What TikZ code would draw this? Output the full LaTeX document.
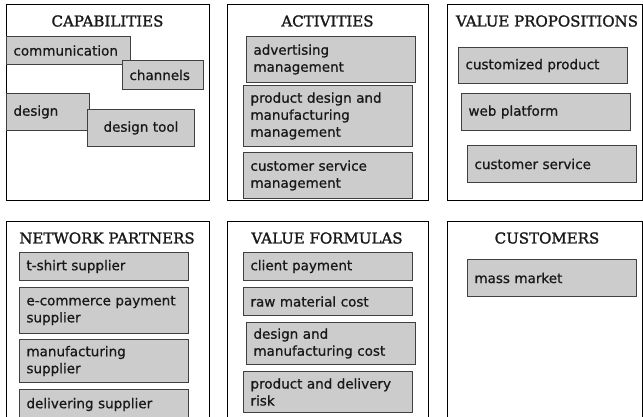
\documentclass[tikz,border=0pt]{standalone}
\usepackage{fontspec}
\newfontfamily\titlefont[FakeBold=1.6]{DejaVu Serif}
\newfontfamily\boxfont[FakeBold=0.8]{DejaVu Sans}
\begin{document}
\begin{tikzpicture}[x=1pt,y=-1pt,
  panel/.style={draw=black, line width=1pt, anchor=north west, inner sep=0pt},
  title/.style={font=\titlefont\fontsize{15}{18}\selectfont, anchor=base, inner sep=0pt, text=black!90},
  box/.style={draw=black!75, fill=gray!40, line width=1pt, anchor=north west, align=left,
    inner xsep=7pt, inner ysep=2pt, font=\boxfont\fontsize{13.5}{17}\selectfont, text=black!90},
]
\useasboundingbox (0,0) rectangle (643,417);
% panels
\node[panel, minimum width=203pt, minimum height=196pt] (pcap) at (6,4) {};
\node[panel, minimum width=201pt, minimum height=196pt] (pact) at (227,4) {};
\node[panel, minimum width=195pt, minimum height=196pt] (pval) at (447,4) {};
\node[panel, minimum width=203pt, minimum height=195.5pt] (pnet) at (6,221) {};
\node[panel, minimum width=201pt, minimum height=195.5pt] (pfor) at (227,221) {};
\node[panel, minimum width=195pt, minimum height=195.5pt] (pcus) at (447,221) {};
% titles
\node[title] (tcap) at (107.5,26.5) {CAPABILITIES};
\node[title] (tact) at (327.5,26.5) {ACTIVITIES};
\node[title] (tval) at (547,26.5) {VALUE PROPOSITIONS};
\node[title] (tnet) at (107,243.5) {NETWORK PARTNERS};
\node[title] (tfor) at (327,243.5) {VALUE FORMULAS};
\node[title] (tcus) at (547,243.5) {CUSTOMERS};
% capabilities
\node[box, text width=110pt, minimum height=28pt] (comm) at (6,36) {communication};
\node[box, text width=67pt, minimum height=29pt] (chan) at (122,60) {channels};
\node[box, text width=69pt, minimum height=37pt] (des) at (6,93) {design};
\node[box, text width=93pt, minimum height=37pt, align=center] (dtool) at (87,109) {design tool};
% activities
\node[box, text width=155pt, minimum height=46pt] (adv) at (246,36) {advertising\\management};
\node[box, text width=155pt, minimum height=61pt] (prod) at (243,85) {product design and\\manufacturing\\management};
\node[box, text width=155pt, minimum height=46pt] (csm) at (243,152) {customer service\\management};
% value propositions
\node[box, text width=155pt, minimum height=36pt] (cprod) at (458,47) {customized product};
\node[box, text width=155pt, minimum height=37pt] (web) at (461,93) {web platform};
\node[box, text width=155pt, minimum height=37pt] (cserv) at (467,145) {customer service};
% network partners
\node[box, text width=155pt, minimum height=28pt] (tshirt) at (19,252) {t-shirt supplier};
\node[box, text width=155pt, minimum height=46pt] (ecom) at (19,287) {e-commerce payment\\supplier};
\node[box, text width=155pt, minimum height=43pt] (mfg) at (19,339) {manufacturing\\supplier};
\node[box, text width=155pt, minimum height=30pt] (deliv) at (19,389) {delivering supplier};
% value formulas
\node[box, text width=155pt, minimum height=28pt] (client) at (243,252) {client payment};
\node[box, text width=155pt, minimum height=28pt] (raw) at (243,287) {raw material cost};
\node[box, text width=155pt, minimum height=42pt] (dmc) at (246,322) {design and\\manufacturing cost};
\node[box, text width=155pt, minimum height=41pt] (pdr) at (243,371) {product and delivery\\risk};
% customers
\node[box, text width=155pt, minimum height=37pt] (mass) at (467,259) {mass market};
\end{tikzpicture}
\end{document}
